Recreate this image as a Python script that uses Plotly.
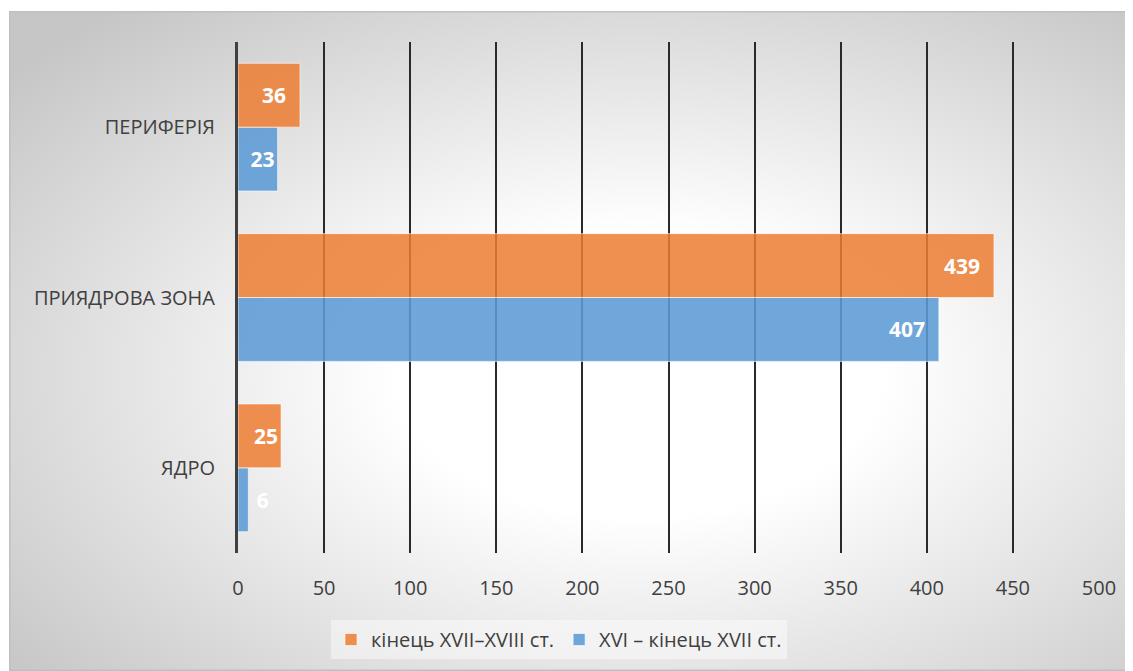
import base64
import plotly.graph_objects as go

categories = ["ЯДРО", "ПРИЯДРОВА ЗОНА", "ПЕРИФЕРІЯ"]
series_late = [25, 439, 36]      # кінець XVII–XVIII ст.
series_early = [6, 407, 23]      # XVI – кінець XVII ст.
name_late = "кінець XVII–XVIII ст."
name_early = "XVI – кінець XVII ст."
x_ticks = [0, 50, 100, 150, 200, 250, 300, 350, 400, 450, 500]

OFF = 8  # browser body margin
W, H = 1133 - OFF, 671 - OFF
ML, MR, MT, MB = 238 - OFF, 1133 - 1099, 42 - OFF, 671 - 553
pw, ph = W - ML - MR, H - MT - MB

def px_to_paper_x(px):
    return (px - OFF - ML) / pw

def px_to_paper_y(py):
    return (H - MB - (py - OFF)) / ph

svg = '''<svg xmlns="http://www.w3.org/2000/svg" width="1124" height="660" viewBox="0 0 1124 660" preserveAspectRatio="none">
<defs><radialGradient id="g" cx="0.56" cy="0.55" r="0.72">
<stop offset="0" stop-color="#ffffff"/><stop offset="0.3" stop-color="#ffffff"/>
<stop offset="1" stop-color="#c6c6c6"/></radialGradient></defs>
<rect x="0" y="0" width="1124" height="660" fill="url(#g)" stroke="#c0c0c0" stroke-width="3"/>
</svg>'''
src = "data:image/svg+xml;base64," + base64.b64encode(svg.encode()).decode()

font = "Open Sans"
FS = 20

def labels(vals):
    out = []
    for v in vals:
        if v >= 30:
            out.append(f"{v}  ")
        elif v >= 20:
            out.append(f"{v}")
        else:
            out.append(f" {v}")
    return out

def positions(vals):
    return ["inside" if v >= 20 else "outside" for v in vals]

lab_font = dict(family=font, size=21, color="white", weight="bold")

fig = go.Figure()
fig.add_trace(go.Bar(
    y=categories, x=series_early, name=name_early, orientation="h",
    marker=dict(color="rgba(91,155,213,0.88)", line=dict(color="rgba(255,255,255,0.6)", width=1)),
    text=labels(series_early), textposition=positions(series_early), insidetextanchor="end",
    constraintext="none", cliponaxis=False,
    textfont=lab_font, insidetextfont=lab_font, outsidetextfont=lab_font,
))
fig.add_trace(go.Bar(
    y=categories, x=series_late, name=name_late, orientation="h",
    marker=dict(color="rgba(237,125,49,0.85)", line=dict(color="rgba(255,255,255,0.6)", width=1)),
    text=labels(series_late), textposition=positions(series_late), insidetextanchor="end",
    constraintext="none", cliponaxis=False,
    textfont=lab_font, insidetextfont=lab_font, outsidetextfont=lab_font,
))

fig.update_layout(
    width=W, height=H,
    margin=dict(l=ML, r=MR, t=MT, b=MB, autoexpand=False),
    paper_bgcolor="white", plot_bgcolor="rgba(0,0,0,0)",
    barmode="group", bargap=0.25, bargroupgap=0,
    font=dict(family=font, size=FS, color="#404040"),
    xaxis=dict(range=[0, 500], tickvals=x_ticks, showgrid=True, gridcolor="#2a2a2a", gridwidth=1.5,
               zeroline=False, showline=False, ticks="", ticklabelstandoff=21,
               tickfont=dict(size=FS, color="#404040"), fixedrange=True),
    yaxis=dict(showline=True, linecolor="#404040", linewidth=3, showgrid=False, ticks="",
               ticklabelstandoff=16, tickfont=dict(size=FS, color="#404040"), fixedrange=True),
    legend=dict(orientation="h", x=px_to_paper_x(559), xanchor="center", y=px_to_paper_y(620),
                yanchor="top", traceorder="reversed", bgcolor="rgba(255,255,255,0.45)",
                font=dict(size=FS, color="#404040"), itemwidth=30, tracegroupgap=0),
    showlegend=True,
    images=[dict(source=src, xref="paper", yref="paper",
                 x=px_to_paper_x(9), y=px_to_paper_y(11),
                 sizex=px_to_paper_x(1133) - px_to_paper_x(9),
                 sizey=px_to_paper_y(11) - px_to_paper_y(671),
                 xanchor="left", yanchor="top", sizing="stretch", layer="below")],
)

fig.write_html("out.html")
